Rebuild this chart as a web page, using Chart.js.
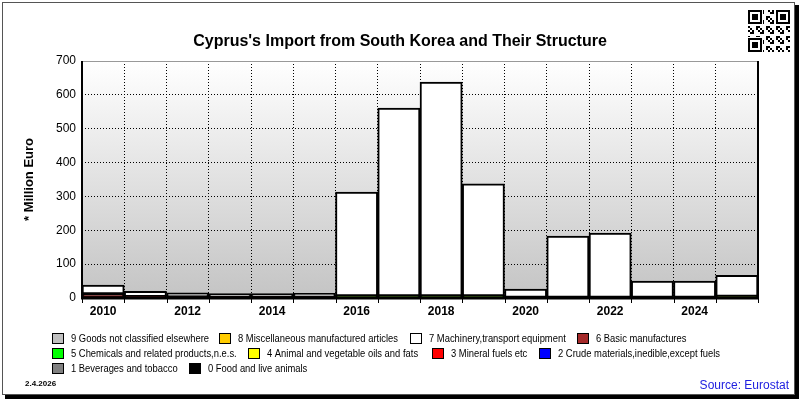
<!DOCTYPE html>
<html>
<head>
<meta charset="utf-8">
<script src="https://cdn.jsdelivr.net/npm/chart.js@4.4.1/dist/chart.umd.min.js"></script>
<style>
  html, body { margin: 0; padding: 0; background: #fff; }
  #wrap { width: 800px; height: 400px; position: relative; }
</style>
</head>
<body>
<div id="wrap"><canvas id="chart" width="800" height="400"></canvas></div>
<script>
// data (million euro)
const years = ['2010', '2011', '2012', '2013', '2014', '2015', '2016', '2017', '2018', '2019', '2020', '2021', '2022', '2023', '2024', '2025'];
const food0 = [1, 3, 2, 2, 2, 2, 3, 3, 3, 3, 1, 1, 1, 1, 1, 1];
const beverages1 = [0, 0, 0, 0, 0, 0, 0, 0, 0, 0, 0, 0, 0, 0, 0, 0];
const crude2 = [0, 0, 0, 0, 0, 0, 0, 0, 0, 0, 0, 0, 0, 0, 0, 0];
const mineral3 = [3, 0, 0, 0, 0, 0, 0, 0, 0, 0, 0, 0, 0, 0, 0, 0];
const oils4 = [0, 0, 0, 0, 0, 0, 0, 0, 0, 0, 0, 0, 0, 0, 0, 0];
const chemicals5 = [0, 0, 0, 0, 0, 0, 1, 1, 1, 1, 0, 0, 0, 0, 0, 3];
const basic6 = [8, 1, 1, 1, 1, 1, 2, 2, 2, 2, 1, 1, 1, 1, 1, 1];
const machinery7 = [26, 16, 12, 10, 10, 11, 307, 555, 632, 331, 24, 181, 190, 48, 48, 62];
const misc8 = [0, 0, 0, 0, 0, 0, 0, 0, 0, 0, 0, 0, 0, 0, 0, 0];
const goods9 = [0, 0, 0, 0, 0, 0, 0, 0, 0, 0, 0, 0, 0, 0, 0, 0];

const seriesNames = [
    '0 Food and live animals', '1 Beverages and tobacco', '2 Crude materials,inedible,except fuels',
    '3 Mineral fuels etc', '4 Animal and vegetable oils and fats', '5 Chemicals and related products,n.e.s.',
    '6 Basic manufactures', '7 Machinery,transport equipment', '8 Miscellaneous manufactured articles',
    '9 Goods not classified elsewhere',
];
const seriesData = [food0, beverages1, crude2, mineral3, oils4, chemicals5, basic6, machinery7, misc8, goods9];
const seriesColors = ['#000000', '#808080', '#0000ff', '#ff0000', '#ffff00', '#00ff00', '#a52a2a', '#ffffff', '#ffcc00', '#c0c0c0'];

// legend layout: [series index, box x, row]
const legendOrder = [[9, 52, 0], [8, 219, 0], [7, 410, 0], [6, 577, 0],
    [5, 52, 1], [4, 248, 1], [3, 432, 1], [2, 539, 1],
    [1, 52, 2], [0, 189, 2]];

const FONT = "'Liberation Sans', Arial, sans-serif";

const decorations = {
    id: 'decorations',
    beforeDraw(chart) {
        const { ctx, chartArea: a } = chart;
        ctx.save();
        ctx.fillStyle = '#fff';
        ctx.fillRect(0, 0, chart.width, chart.height);
        const g = ctx.createLinearGradient(0, a.top, 0, a.bottom);
        g.addColorStop(0, '#ffffff');
        g.addColorStop(1, '#c4c4c4');
        ctx.fillStyle = g;
        ctx.fillRect(a.left, a.top, a.right - a.left, a.bottom - a.top);
        ctx.restore();
    },
    afterDraw(chart) {
        const { ctx, chartArea: a } = chart;
        const x = chart.scales.x;
        ctx.save();

        // plot frame
        ctx.strokeStyle = '#999';
        ctx.lineWidth = 1;
        ctx.beginPath();
        ctx.moveTo(a.left, a.top + 0.5);
        ctx.lineTo(a.right, a.top + 0.5);
        ctx.stroke();
        ctx.strokeStyle = '#000';
        ctx.lineWidth = 2;
        ctx.beginPath();
        ctx.moveTo(a.left, a.top);
        ctx.lineTo(a.left, a.bottom);
        ctx.moveTo(a.right, a.top);
        ctx.lineTo(a.right, a.bottom);
        ctx.stroke();
        ctx.lineWidth = 3;
        ctx.beginPath();
        ctx.moveTo(a.left - 1, a.bottom);
        ctx.lineTo(a.right + 1, a.bottom);
        ctx.stroke();

        // tick marks on category boundaries
        const step = x.getPixelForValue(1) - x.getPixelForValue(0);
        ctx.lineWidth = 1;
        ctx.beginPath();
        for (let i = 0; i <= years.length; i++) {
            const px = x.getPixelForValue(0) - step / 2 + i * step;
            ctx.moveTo(Math.round(px) + 0.5, a.bottom);
            ctx.lineTo(Math.round(px) + 0.5, a.bottom + 5);
        }
        ctx.stroke();

        // title
        ctx.fillStyle = '#000';
        ctx.textAlign = 'center';
        ctx.textBaseline = 'middle';
        ctx.font = 'bold 16px ' + FONT;
        ctx.fillText("Cyprus's Import from South Korea and Their Structure", 400, 42);

        // legend (text squeezed a little to match the narrow face of the original)
        ctx.textAlign = 'left';
        ctx.font = '11px ' + FONT;
        const squeeze = 138 / ctx.measureText(seriesNames[9]).width;
        legendOrder.forEach(([s, bx, row]) => {
            const cy = 339 + row * 15;
            ctx.fillStyle = seriesColors[s];
            ctx.fillRect(bx, cy - 6, 12, 11);
            ctx.strokeStyle = '#000';
            ctx.lineWidth = 1;
            ctx.strokeRect(bx + 0.5, cy - 5.5, 11, 10);
            ctx.fillStyle = '#000';
            ctx.save();
            ctx.translate(bx + 19, cy);
            ctx.scale(squeeze, 1);
            ctx.fillText(seriesNames[s], 0, 0);
            ctx.restore();
        });

        // date and source
        ctx.font = 'bold 8px ' + FONT;
        ctx.fillText('2.4.2026', 25, 384);
        ctx.textAlign = 'right';
        ctx.font = '12px ' + FONT;
        ctx.fillStyle = '#2020e0';
        ctx.fillText('Source: Eurostat', 789, 386);

        // qr-like badge
        const qx = 748, qy = 10, m = 2;
        ctx.fillStyle = '#000';
        for (let i = 0; i < 21; i++) {
            for (let j = 0; j < 21; j++) {
                if (((i * 7 + j * 13 + i * j) % 5) < 2) ctx.fillRect(qx + j * m, qy + i * m, m, m);
            }
        }
        [[0, 0], [14, 0], [0, 14]].forEach(([fx, fy]) => {
            ctx.fillStyle = '#fff';
            ctx.fillRect(qx + fx * m - 1, qy + fy * m - 1, 7 * m + 2, 7 * m + 2);
            ctx.fillStyle = '#000';
            ctx.fillRect(qx + fx * m, qy + fy * m, 7 * m, 7 * m);
            ctx.fillStyle = '#fff';
            ctx.fillRect(qx + (fx + 1) * m, qy + (fy + 1) * m, 5 * m, 5 * m);
            ctx.fillStyle = '#000';
            ctx.fillRect(qx + (fx + 2) * m, qy + (fy + 2) * m, 3 * m, 3 * m);
        });

        // outer frame with shadow
        ctx.strokeStyle = '#555';
        ctx.lineWidth = 1;
        ctx.strokeRect(2.5, 2.5, 792, 392);
        ctx.fillStyle = '#000';
        ctx.fillRect(795, 5, 4, 394);
        ctx.fillRect(5, 395, 794, 4);
        ctx.restore();
    },
};

new Chart(document.getElementById('chart'), {
    type: 'bar',
    data: {
        labels: years,
        datasets: seriesData.map((values, i) => ({
            label: seriesNames[i],
            data: values,
            backgroundColor: seriesColors[i],
            borderColor: '#000',
            borderWidth: 2,
            borderSkipped: false,
            barPercentage: 1,
            categoryPercentage: 1,
        })),
    },
    options: {
        responsive: false,
        animation: false,
        layout: {
            padding: { left: 18, right: 42, top: 61, bottom: 82 },
        },
        plugins: {
            legend: { display: false },
            title: { display: false },
            tooltip: { enabled: false },
        },
        scales: {
            x: {
                stacked: true,
                afterFit(scale) { scale.height = 20; },
                grid: {
                    color: '#000',
                    lineWidth: 1,
                    drawTicks: false,
                    offset: true,
                },
                border: { display: false, dash: [1, 2] },
                ticks: {
                    autoSkip: false,
                    maxRotation: 0,
                    padding: 6,
                    color: '#000',
                    font: { family: FONT, size: 12, weight: 'bold' },
                    callback: (value, index) => (index % 2 === 0 ? years[index] : ''),
                },
            },
            y: {
                stacked: true,
                min: 0,
                max: 700,
                afterFit(scale) { scale.width = 64; },
                grid: {
                    color: (c) => (c.tick && c.tick.value > 0 && c.tick.value < 700 ? '#000' : 'rgba(0,0,0,0)'),
                    lineWidth: 1,
                    drawTicks: false,
                },
                border: { display: false, dash: [1, 2] },
                ticks: {
                    stepSize: 100,
                    padding: 6,
                    color: '#000',
                    font: { family: FONT, size: 12 },
                },
                title: {
                    display: true,
                    text: '* Million Euro',
                    color: '#000',
                    font: { family: FONT, size: 13, weight: 'bold' },
                },
            },
        },
    },
    plugins: [decorations],
});
</script>
</body>
</html>
